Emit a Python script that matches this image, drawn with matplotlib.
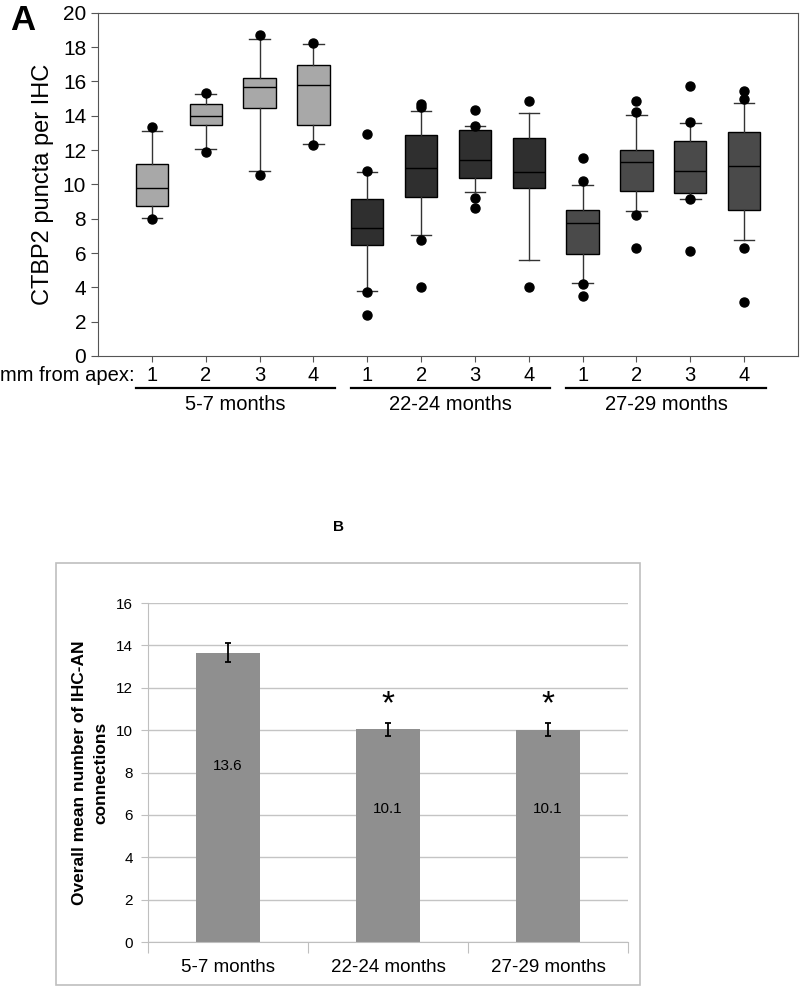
import matplotlib.pyplot as plt
import matplotlib.patches as mpatches

plt.rcParams['font.family'] = ['Liberation Sans', 'DejaVu Sans']

# Panel A: box stats (q1, median, q3, whisker low, whisker high, outliers)
groups = ['5-7 months', '22-24 months', '27-29 months']
mm_labels = ['1', '2', '3', '4'] * 3
q1 = [8.75, 13.46, 14.44, 13.46, 6.48, 9.28, 10.39, 9.81, 5.95, 9.63, 9.49, 8.52]
med = [9.77, 13.97, 15.68, 15.80, 7.45, 10.95, 11.42, 10.72, 7.76, 11.30, 10.78, 11.09]
q3 = [11.19, 14.69, 16.21, 16.96, 9.14, 12.86, 13.17, 12.72, 8.50, 12.02, 12.53, 13.07]
wlo = [8.02, 12.04, 10.80, 12.37, 3.77, 7.06, 9.53, 5.58, 4.28, 8.42, 9.14, 6.75]
whi = [13.11, 15.27, 18.48, 18.17, 10.74, 14.28, 13.40, 14.14, 9.98, 14.03, 13.56, 14.77]
outliers = [
    [13.33, 8.0],
    [15.31, 11.91],
    [18.73, 10.53],
    [18.23, 12.30],
    [12.92, 10.80, 3.72, 2.41],
    [14.67, 14.5, 6.73, 4.03],
    [14.34, 13.40, 9.22, 8.62],
    [14.84, 4.03],
    [11.52, 10.21, 4.22, 3.52],
    [14.84, 14.22, 8.19, 6.32],
    [15.72, 13.64, 9.12, 6.13],
    [15.43, 15.0, 6.32, 3.13],
]
group_colors = ['#a8a8a8', '#2f2f2f', '#4a4a4a']

# Panel B
bar_cats = ['5-7 months', '22-24 months', '27-29 months']
bar_means = [13.65, 10.05, 10.02]
bar_err = [0.45, 0.31, 0.31]
bar_text = ['13.6', '10.1', '10.1']
significant = [False, True, True]

fig = plt.figure(figsize=(8, 9.86), dpi=100)

# ---- Panel A ----
ax = fig.add_axes([0.1225, 0.639, 0.875, 0.348])
stats = []
for i in range(12):
    stats.append(dict(q1=q1[i], med=med[i], q3=q3[i], whislo=wlo[i], whishi=whi[i], fliers=outliers[i]))
pos = list(range(1, 13))
bp = ax.bxp(stats, positions=pos, widths=0.6, capwidths=0.38, patch_artist=True, showfliers=True,
            medianprops=dict(color='black', lw=1),
            boxprops=dict(edgecolor='black', lw=1),
            whiskerprops=dict(color='#333333', lw=1),
            capprops=dict(color='#333333', lw=1),
            flierprops=dict(marker='o', markerfacecolor='black', markeredgecolor='black', markersize=6.5))
for i, b in enumerate(bp['boxes']):
    b.set_facecolor(group_colors[i // 4])

ax.set_xlim(0, 13)
ax.set_ylim(0, 20)
ax.set_yticks(range(0, 21, 2))
ax.tick_params(axis='y', labelsize=15, direction='out', length=5, color='#555555')
ax.tick_params(axis='x', labelsize=14.5, direction='out', length=4, color='#555555', pad=3)
ax.set_xticks(pos)
ax.set_xticklabels(mm_labels)
for s in ax.spines.values():
    s.set_color('#555555')
ax.set_ylabel('CTBP2 puncta per IHC', fontsize=17, labelpad=6)

fig.text(0.0, 1 - 376 / 986, 'mm from apex:', ha='left', va='center', fontsize=14.5)
for g in range(3):
    start = 1 + 4 * g
    ax.plot([start - 0.3, start + 3.4], [-1.87, -1.87], color='black', lw=1.6, clip_on=False)
    ax.text(start + 1.55, -2.25, groups[g], ha='center', va='top', fontsize=14.5)

fig.text(0.0125, 0.996, 'A', fontsize=25, fontweight='bold', ha='left', va='top')

# ---- Panel B ----
fig.text(0.4225, 1 - 527 / 986, 'B', fontsize=11, fontweight='bold', ha='center', va='center')
frame = mpatches.Rectangle((0.07, 0.001), 0.73, 0.428, transform=fig.transFigure,
                           fill=False, edgecolor='#bfbfbf', lw=1.2)
fig.add_artist(frame)

bx = fig.add_axes([0.185, 0.0446, 0.6, 0.3438])
xb = range(len(bar_cats))
bx.bar(xb, bar_means, width=0.4, color='#8f8f8f', zorder=2)
bx.errorbar(xb, bar_means, yerr=bar_err, fmt='none', ecolor='black', elinewidth=1.3,
            capsize=2, capthick=1.3, zorder=3)
for i in xb:
    y_lbl = 8.3 if bar_means[i] > 12 else 6.3
    bx.text(i, y_lbl, bar_text[i], ha='center', va='center', fontsize=11)
    if significant[i]:
        bx.text(i, 11.2, '*', ha='center', va='center', fontsize=24)
bx.set_xlim(-0.5, 2.5)
bx.set_ylim(0, 16)
bx.set_yticks(range(0, 17, 2))
bx.yaxis.grid(True, color='#c4c4c4', lw=1)
bx.set_axisbelow(True)
bx.set_xticks([-0.5, 0.5, 1.5, 2.5])
bx.set_xticklabels([])
bx.set_xticks(list(xb), minor=True)
bx.set_xticklabels(bar_cats, minor=True, fontsize=13.5)
bx.tick_params(axis='x', which='major', length=8, color='#bfbfbf')
bx.tick_params(axis='x', which='minor', length=0, pad=12)
bx.tick_params(axis='y', length=5, color='#bfbfbf', labelsize=11, pad=6)
for side in ['top', 'right']:
    bx.spines[side].set_visible(False)
bx.spines['left'].set_color('#bfbfbf')
bx.spines['bottom'].set_color('#bfbfbf')
bx.set_ylabel('Overall mean number of IHC-AN\nconnections', fontsize=12.5, fontweight='bold',
              labelpad=5, linespacing=1.6)

fig.savefig('out.png', dpi=100)
